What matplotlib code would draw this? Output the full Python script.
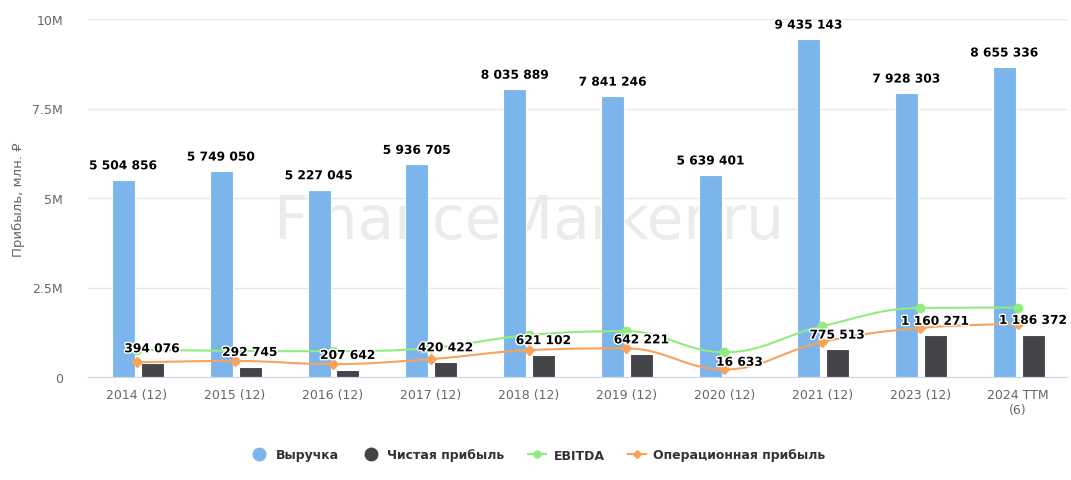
import matplotlib.pyplot as plt
import matplotlib.patheffects as pe
from matplotlib.path import Path
from matplotlib.patches import PathPatch
from matplotlib.lines import Line2D
import numpy as np

plt.rcParams['font.family'] = ['DejaVu Sans', 'Noto Sans']

# данные
categories = ['2014 (12)', '2015 (12)', '2016 (12)', '2017 (12)', '2018 (12)',
              '2019 (12)', '2020 (12)', '2021 (12)', '2023 (12)', '2024 TTM\n(6)']
revenue = [5504856, 5749050, 5227045, 5936705, 8035889,
           7841246, 5639401, 9435143, 7928303, 8655336]
net_profit = [394076, 292745, 207642, 420422, 621102,
              642221, 16633, 775513, 1160271, 1186372]
ebitda = [760000, 730000, 720000, 810000, 1170000,
          1280000, 690000, 1420000, 1930000, 1940000]
op_profit = [410000, 450000, 360000, 500000, 750000,
             800000, 210000, 980000, 1370000, 1480000]

BLUE, DARK, GREEN, ORANGE = '#7cb5ec', '#434348', '#90ed7d', '#f7a35c'


def spline_path(xs, ys, smoothing=1.5):
    # сглаживание как в highcharts spline
    n = len(xs)
    left, right = [None] * n, [None] * n
    d = smoothing + 1
    for i in range(n):
        px, py = xs[i], ys[i]
        if i == 0 or i == n - 1:
            left[i] = right[i] = (px, py)
            continue
        lx = (smoothing * px + xs[i - 1]) / d
        ly = (smoothing * py + ys[i - 1]) / d
        rx = (smoothing * px + xs[i + 1]) / d
        ry = (smoothing * py + ys[i + 1]) / d
        corr = ((ry - ly) * (rx - px)) / (rx - lx) + py - ry
        ly += corr
        ry += corr
        if ly > ys[i - 1] and ly > py:
            ly = max(ys[i - 1], py); ry = 2 * py - ly
        elif ly < ys[i - 1] and ly < py:
            ly = min(ys[i - 1], py); ry = 2 * py - ly
        if ry > ys[i + 1] and ry > py:
            ry = max(ys[i + 1], py); ly = 2 * py - ry
        elif ry < ys[i + 1] and ry < py:
            ry = min(ys[i + 1], py); ly = 2 * py - ry
        left[i] = (lx, ly)
        right[i] = (rx, ry)
    verts = [(xs[0], ys[0])]
    codes = [Path.MOVETO]
    for i in range(1, n):
        verts += [right[i - 1], left[i], (xs[i], ys[i])]
        codes += [Path.CURVE4] * 3
    return Path(verts, codes)


fig = plt.figure(figsize=(10.71, 4.81), dpi=100)
ax = fig.add_axes([88 / 1071, 103 / 481, 979 / 1071, 358 / 481])

x = np.arange(len(categories))
w = 0.235

ax.text(4.0, 4.35e6, 'FinanceMarker.ru', fontsize=43, color='#ebebeb',
        ha='center', va='center', zorder=0)

ax.bar(x - 0.14, revenue, w, color=BLUE, edgecolor='white', linewidth=0.8, zorder=2)
ax.bar(x + 0.155, net_profit, w, color=DARK, edgecolor='white', linewidth=0.8, zorder=2)

for vals, col, mk, ms in [(ebitda, GREEN, 'o', 6), (op_profit, ORANGE, 'D', 5)]:
    p = spline_path(list(x.astype(float)), vals)
    ax.add_patch(PathPatch(p, facecolor='none', edgecolor=col, lw=1.5, zorder=3))
    ax.plot(x, vals, ls='none', marker=mk, ms=ms, color=col, zorder=4)

stroke = [pe.withStroke(linewidth=2, foreground='white')]
for i in x:
    ax.annotate(f'{revenue[i]:,}'.replace(',', ' '), (i - 0.14, revenue[i]),
                xytext=(0, 5.5), textcoords='offset points', ha='center', va='bottom',
                fontsize=8.8, fontweight='bold', color='black', zorder=5,
                path_effects=stroke)
    ax.annotate(f'{net_profit[i]:,}'.replace(',', ' '), (i + 0.155, net_profit[i]),
                xytext=(0, 5.5), textcoords='offset points', ha='center', va='bottom',
                fontsize=8.8, fontweight='bold', color='black', zorder=5,
                path_effects=stroke)

ax.set_xlim(-0.5, 9.5)
ax.set_ylim(0, 10e6)
ax.set_yticks([0, 2.5e6, 5e6, 7.5e6, 10e6])
ax.set_yticklabels(['0', '2.5M', '5M', '7.5M', '10M'])
ax.set_xticks(x)
ax.set_xticklabels(categories)
ax.tick_params(axis='both', length=0, labelsize=9, colors='#666666')
ax.tick_params(axis='x', pad=8)
ax.tick_params(axis='y', pad=18)
ax.grid(axis='y', color='#e6e6e6', lw=1)
ax.set_axisbelow(True)
for s in ['top', 'right', 'left']:
    ax.spines[s].set_visible(False)
ax.spines['bottom'].set_color('#ccd6eb')

fig.text(18 / 1071, 1 - 200 / 481, 'Прибыль, млн. ₽', rotation=90,
         ha='center', va='center', fontsize=9.5, color='#666666')

handles = [
    Line2D([], [], ls='none', marker='o', ms=9, color=BLUE),
    Line2D([], [], ls='none', marker='o', ms=9, color=DARK),
    Line2D([], [], color=GREEN, lw=1.5, marker='o', ms=5),
    Line2D([], [], color=ORANGE, lw=1.5, marker='D', ms=4),
]
labels = ['Выручка', 'Чистая прибыль', 'EBITDA', 'Операционная прибыль']
fig.legend(handles, labels, loc='center', bbox_to_anchor=(538 / 1071, 1 - 456 / 481),
           ncol=4, frameon=False, handlelength=1.4, columnspacing=1.9,
           handletextpad=0.6, prop={'weight': 'bold', 'size': 9},
           labelcolor='#333333')

fig.savefig('out.png', dpi=100)
